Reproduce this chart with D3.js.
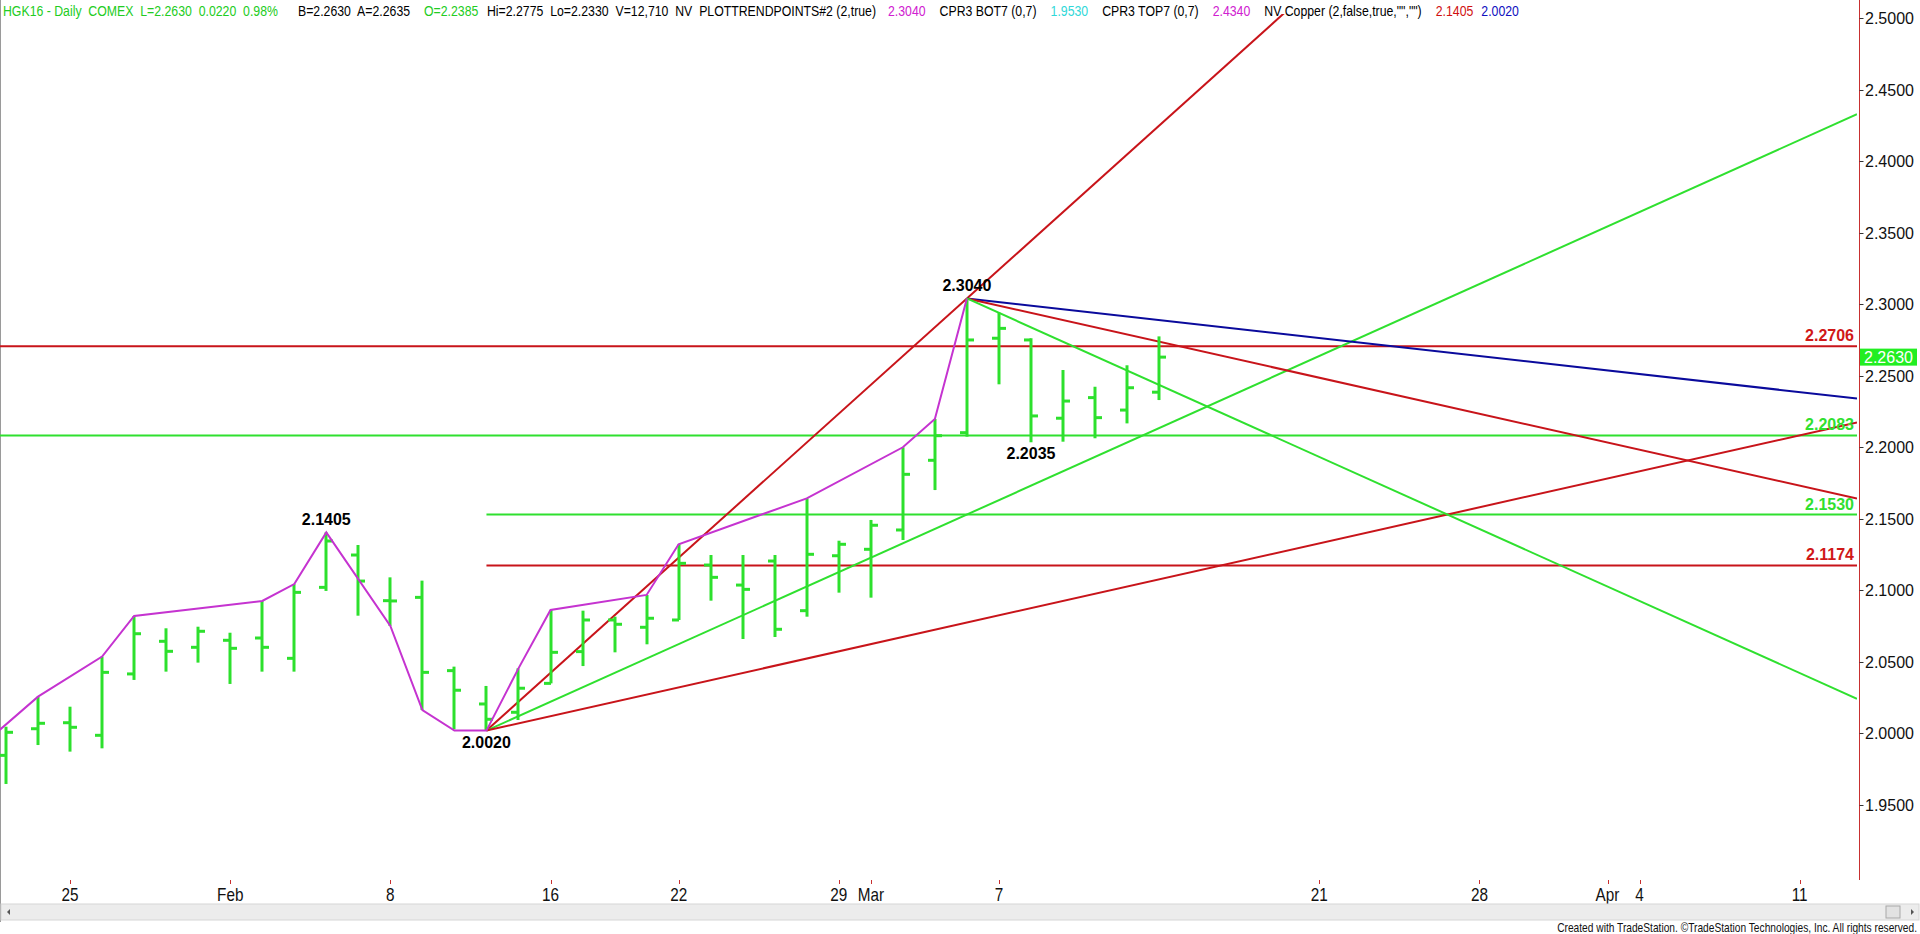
<!DOCTYPE html>
<html><head><meta charset="utf-8">
<script src="https://cdn.jsdelivr.net/npm/d3@7"></script>
<style>html,body{margin:0;padding:0;background:#fff;overflow:hidden}svg{display:block}</style>
</head><body>
<svg id="chart" width="1920" height="934"></svg>
<script>
// ---------------- DATA ----------------
const dates = ["2016-01-21","2016-01-22","2016-01-25","2016-01-26","2016-01-27","2016-01-28","2016-01-29",
"2016-02-01","2016-02-02","2016-02-03","2016-02-04","2016-02-05","2016-02-08","2016-02-09","2016-02-10",
"2016-02-11","2016-02-12","2016-02-16","2016-02-17","2016-02-18","2016-02-19","2016-02-22","2016-02-23",
"2016-02-24","2016-02-25","2016-02-26","2016-02-29","2016-03-01","2016-03-02","2016-03-03","2016-03-04",
"2016-03-07","2016-03-08","2016-03-09","2016-03-10","2016-03-11","2016-03-14"];
const opens  = [1.9847,2.0033,2.0075,1.9987,2.0416,2.0644,2.0602,2.0651,2.0667,2.0525,2.1021,2.1247,2.0928,2.0951,2.0439,2.0206,2.0148,2.0350,2.0572,2.0793,2.0742,2.0793,2.1177,2.1037,2.1205,2.0858,2.1242,2.1287,2.1422,2.1909,2.2102,2.2762,2.2750,2.2203,2.2347,2.2260,2.2385];
const highs  = [2.0047,2.0257,2.0187,2.0537,2.0821,2.0735,2.0746,2.0704,2.0926,2.1044,2.1405,2.1317,2.1091,2.1068,2.0467,2.0332,2.0455,2.0863,2.0858,2.0816,2.0968,2.1322,2.1247,2.1247,2.1247,2.1643,2.1347,2.1492,2.2000,2.2198,2.3040,2.2941,2.2762,2.2540,2.2423,2.2573,2.2775];
const lows   = [1.9647,1.9919,1.9873,1.9896,2.0374,2.0432,2.0495,2.0346,2.0432,2.0432,2.0996,2.0823,2.0751,2.0164,2.0029,2.0020,2.0094,2.0350,2.0471,2.0567,2.0623,2.0793,2.0928,2.0660,2.0674,2.0816,2.0984,2.0949,2.1352,2.1701,2.2074,2.2440,2.2035,2.2039,2.2063,2.2167,2.2330];
const closes = [2.0008,2.0071,2.0043,2.0427,2.0697,2.0574,2.0714,2.0595,2.0602,2.0986,2.1345,2.1065,2.0926,2.0427,2.0302,2.0099,2.0316,2.0567,2.0793,2.0763,2.0805,2.1189,2.1091,2.1007,2.0728,2.1252,2.1322,2.1455,2.1811,2.2081,2.2750,2.2831,2.2219,2.2323,2.2207,2.2416,2.2630];

// swing (trend points) line: [bar index, price]
const swingIdx = [-1,1,3,4,8,9,10,12,13,14,15,16,17,20,21,25,28,29,30];
const swingVal = [1.9870,2.0257,2.0537,2.0821,2.0926,2.1044,2.1405,2.0751,2.0164,2.0020,2.0020,2.0455,2.0863,2.0968,2.1322,2.1643,2.2000,2.2198,2.3040];

// pivot labels
const pivotIdx = [10,15,30,32];
const pivotVal = [2.1405,2.0020,2.3040,2.2035];
const pivotPos = ["above","below","above","below"];

// fan anchors (low 2.0020 on bar 15, high 2.3040 on bar 30)
const fanLowIdx = 15, fanLowVal = 2.0020, fanHighIdx = 30, fanHighVal = 2.3040;
const fanFromLowRatios  = [1, 0.5, 0.25];
const fanFromLowColors  = ["#c8141a","#2fe02f","#c8141a"];
const fanFromHighRatios = [-0.125, -0.25, -0.5];
const fanFromHighColors = ["#0a0a9c","#c8141a","#2fe02f"];

// horizontal levels
const levelVals   = [2.2706, 2.2083, 2.1530, 2.1174];
const levelStart  = [-1, -1, 15, 15];   // bar index where the level begins (-1 = left edge)
const levelColors = ["#c8141a","#2fe02f","#2fe02f","#c8141a"];
const levelTextColors = ["#d01818","#30e030","#30e030","#d01818"];

const lastPrice = 2.2630;
const yTicks = [2.50,2.45,2.40,2.35,2.30,2.25,2.20,2.15,2.10,2.05,2.00,1.95];
const xTickLabels = ["25","Feb","8","16","22","29","Mar","7","21","28","Apr","4","11"];
const xTickDates  = ["2016-01-25","2016-02-01","2016-02-08","2016-02-16","2016-02-22","2016-02-29","2016-03-01","2016-03-07","2016-03-21","2016-03-28","2016-04-01","2016-04-04","2016-04-11"];

// header legend: fixed groups, then a sequential run
const legendGroups = ["HGK16 - Daily  COMEX  L=2.2630  0.0220  0.98%","B=2.2630  A=2.2635","O=2.2385","Hi=2.2775  Lo=2.2330  V=12,710  NV  PLOTTRENDPOINTS#2 (2,true)"];
const legendGroupColor = ["#22cc22","#000","#22cc22","#000"];
const legendGroupX = [3, 298, 424, 487];
const legendRun = ["2.3040","CPR3 BOT7 (0,7)","1.9530","CPR3 TOP7 (0,7)","2.4340","NV Copper (2,false,true,\"\",\"\")","2.1405","2.0020"];
const legendRunColor = ["#d020d0","#000","#30d8d8","#000","#d020d0","#000","#d01010","#1010c0"];
const legendRunGap = [14,14,14,14,14,14,8];

// ---------------- LAYOUT ----------------
const svg = d3.select("#chart");
const plotTop = 14, plotBottom = 880, lineRight = 1857, axisX = 1859.5;
const x = d3.scaleLinear().domain([0, 1]).range([6, 38.03]);
const y = d3.scaleLinear().domain([1.95, 2.5]).range([805, 18]);
const FONT = "Liberation Sans, Arial, sans-serif";

function dateIndex(ds){
  const i = dates.indexOf(ds);
  if (i >= 0) return i;
  let d = new Date(dates[dates.length-1] + "T12:00:00Z"), idx = dates.length-1;
  const target = new Date(ds + "T12:00:00Z");
  while (d < target){ d = new Date(d.getTime()+86400000); const wd = d.getUTCDay(); if (wd!==0 && wd!==6) idx++; }
  return idx;
}
const idxEnd = x.invert(lineRight);

svg.append("defs").append("clipPath").attr("id","plotclip")
  .append("rect").attr("x",0).attr("y",plotTop).attr("width",lineRight).attr("height",plotBottom-plotTop);

svg.append("line").attr("x1",0.5).attr("x2",0.5).attr("y1",0).attr("y2",922).attr("stroke","#9a9a9a").attr("stroke-width",1);

const g = svg.append("g").attr("clip-path","url(#plotclip)");

levelVals.forEach((v,i)=>{
  const x0 = levelStart[i] < 0 ? 0 : x(levelStart[i]);
  g.append("line").attr("x1",x0).attr("x2",lineRight).attr("y1",y(v)).attr("y2",y(v))
    .attr("stroke",levelColors[i]).attr("stroke-width",2);
});

const baseSlope = (fanHighVal - fanLowVal)/(fanHighIdx - fanLowIdx);
fanFromLowRatios.forEach((r,i)=>{
  const v1 = fanLowVal + baseSlope*r*(idxEnd - fanLowIdx);
  g.append("line").attr("x1",x(fanLowIdx)).attr("y1",y(fanLowVal)).attr("x2",x(idxEnd)).attr("y2",y(v1))
    .attr("stroke",fanFromLowColors[i]).attr("stroke-width",2);
});
fanFromHighRatios.forEach((r,i)=>{
  const v1 = fanHighVal + baseSlope*r*(idxEnd - fanHighIdx);
  g.append("line").attr("x1",x(fanHighIdx)).attr("y1",y(fanHighVal)).attr("x2",x(idxEnd)).attr("y2",y(v1))
    .attr("stroke",fanFromHighColors[i]).attr("stroke-width",2);
});

const barColor = "#2de02d";
const bars = g.append("g");
dates.forEach((d,i)=>{
  const cx = Math.round(x(i));
  bars.append("line").attr("x1",cx).attr("x2",cx).attr("y1",y(highs[i])).attr("y2",y(lows[i]))
    .attr("stroke",barColor).attr("stroke-width",3);
  bars.append("line").attr("x1",cx-7).attr("x2",cx).attr("y1",y(opens[i])).attr("y2",y(opens[i]))
    .attr("stroke",barColor).attr("stroke-width",3);
  bars.append("line").attr("x1",cx).attr("x2",cx+7).attr("y1",y(closes[i])).attr("y2",y(closes[i]))
    .attr("stroke",barColor).attr("stroke-width",3);
});

const swingPts = swingIdx.map((d,i)=>[d, swingVal[i]]);
g.append("path").datum(swingPts)
  .attr("d", d3.line().x(d=>x(d[0])).y(d=>y(d[1])))
  .attr("fill","none").attr("stroke","#c533d0").attr("stroke-width",2);

pivotIdx.forEach((idx,i)=>{
  const yy = y(pivotVal[i]) + (pivotPos[i]==="above" ? -7 : 17);
  svg.append("text").attr("x",x(idx)).attr("y",yy).attr("text-anchor","middle")
    .attr("font-family",FONT).attr("font-weight","bold").attr("font-size",16)
    .attr("fill","#000").text(pivotVal[i].toFixed(4));
});

levelVals.forEach((v,i)=>{
  svg.append("text").attr("x",1854).attr("y",y(v)-5).attr("text-anchor","end")
    .attr("font-family",FONT).attr("font-weight","bold").attr("font-size",16)
    .attr("fill",levelTextColors[i]).text(v.toFixed(4));
});

svg.append("line").attr("x1",axisX).attr("x2",axisX).attr("y1",0).attr("y2",plotBottom)
  .attr("stroke","#c83030").attr("stroke-width",1);
yTicks.forEach(t=>{
  svg.append("line").attr("x1",axisX).attr("x2",axisX+4).attr("y1",Math.round(y(t))+0.5).attr("y2",Math.round(y(t))+0.5)
    .attr("stroke","#333").attr("stroke-width",1);
  svg.append("text").attr("x",1865).attr("y",y(t)+6).attr("font-family",FONT)
    .attr("font-size",16).attr("fill","#111").text(t.toFixed(4));
});
svg.append("rect").attr("x",axisX+0.5).attr("y",y(lastPrice)-8.5).attr("width",57).attr("height",17).attr("fill","#22ee22");
svg.append("text").attr("x",1864).attr("y",y(lastPrice)+6).attr("font-family",FONT)
  .attr("font-size",16).attr("fill","#fff").text(lastPrice.toFixed(4));

xTickDates.forEach((ds,i)=>{
  const xx = x(dateIndex(ds));
  svg.append("line").attr("x1",Math.round(xx)+0.5).attr("x2",Math.round(xx)+0.5).attr("y1",plotBottom).attr("y2",plotBottom+4)
    .attr("stroke","#c83030").attr("stroke-width",1);
  svg.append("text").attr("transform",`translate(${xx},${plotBottom+21}) scale(0.85,1)`).attr("text-anchor","middle")
    .attr("font-family",FONT).attr("font-size",18).attr("fill","#111").text(xTickLabels[i]);
});

// header legend
const SX = 0.82;
let lastEnd = 0;
legendGroups.forEach((t,i)=>{
  const el = svg.append("text").attr("transform",`translate(${legendGroupX[i]},16) scale(${SX},1)`)
    .attr("font-family",FONT).attr("font-size",15).attr("fill",legendGroupColor[i])
    .style("white-space","pre").text(t);
  lastEnd = legendGroupX[i] + el.node().getComputedTextLength()*SX;
});
let cur = lastEnd + 12;
legendRun.forEach((t,i)=>{
  const el = svg.append("text").attr("transform",`translate(${cur},16) scale(${SX},1)`)
    .attr("font-family",FONT).attr("font-size",15).attr("fill",legendRunColor[i]).text(t);
  cur += el.node().getComputedTextLength()*SX + (i < legendRunGap.length ? legendRunGap[i] : 0);
});

svg.append("rect").attr("x",1).attr("y",904).attr("width",1918).attr("height",16).attr("fill","#ececec").attr("stroke","#d6d6d6");
svg.append("path").attr("d","M7,912 L10,909 L10,915 Z").attr("fill","#555");
svg.append("rect").attr("x",1886).attr("y",906).attr("width",14).attr("height",12).attr("fill","#e2e2e2").attr("stroke","#a8a8a8");
svg.append("path").attr("d","M1911,909 L1914,912 L1911,915 Z").attr("fill","#555");

svg.append("text").attr("transform","translate(1917,932) scale(0.85,1)").attr("text-anchor","end")
  .attr("font-family",FONT).attr("font-size",12).attr("fill","#111")
  .text("Created with TradeStation. \u00A9TradeStation Technologies, Inc. All rights reserved.");
</script>
</body></html>
